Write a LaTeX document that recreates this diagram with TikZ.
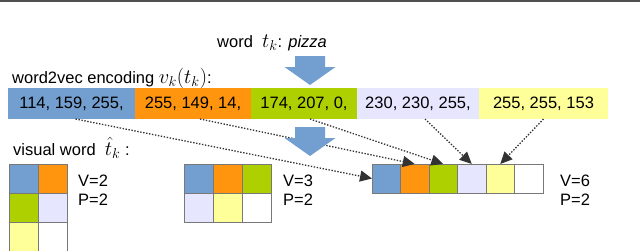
\RequirePackage{fix-cm}
\documentclass[tikz,border=0pt]{standalone}
\usepackage{fontspec}
\setmainfont{Liberation Sans}
\usepackage{xcolor}
\usepackage{tikz}
\usetikzlibrary{arrows.meta,positioning}
\definecolor{wblue}{RGB}{114,159,207}
\definecolor{worange}{RGB}{255,149,14}
\definecolor{wgreen}{RGB}{174,207,0}
\definecolor{wlav}{RGB}{230,230,255}
\definecolor{wyellow}{RGB}{255,255,153}
\definecolor{cellgray}{RGB}{120,120,120}
\definecolor{ptrgray}{RGB}{51,51,51}
\definecolor{rulegray}{RGB}{80,80,80}
\newcommand{\bigmath}[1]{{\fontsize{20.5}{24}\selectfont$#1$}}

\begin{document}
\begin{tikzpicture}[x=1pt, y=-1pt,
    lbl/.style={inner sep=0pt, font=\fontsize{16.5}{19}\selectfont},
    seg/.style={lbl, minimum height=31pt, outer sep=0pt},
    cell/.style={draw=cellgray, line width=0.8pt, minimum size=29pt, inner sep=0pt, outer sep=0pt},
    ptr/.style={-{Triangle[length=12pt,width=11pt]}, draw=ptrgray, line width=1.3pt, dash pattern=on 1.4pt off 1.6pt}]
        \useasboundingbox (0,0) rectangle (640,250);
        \draw[rulegray, line width=2pt] (0,1) -- (640,1);

        % labels
        \node (wordlbl) [lbl, anchor=base west] at (217,47) {word\ \ \bigmath{t_k}: \textit{pizza}};
        \node (enclbl) [lbl, anchor=base west] at (12,83) {word2vec encoding \bigmath{v_k(t_k)}:};
        \node (vislbl) [lbl, anchor=base west] at (13,155) {visual word\ \ \bigmath{\hat{t}_k}\ :};

        % encoding bar
        \node (s1) [seg, fill=wblue, minimum width=127pt, anchor=north west] at (8,88) {114, 159, 255,};
        \node (s2) [seg, fill=worange, minimum width=116pt, right=0pt of s1] {255, 149, 14,};
        \node (s3) [seg, fill=wgreen, minimum width=106pt, right=0pt of s2] {174, 207, 0,};
        \node (s4) [seg, fill=wlav, minimum width=122pt, right=0pt of s3] {230, 230, 255,};
        \node (s5) [seg, fill=wyellow, minimum width=129pt, right=0pt of s4] {255, 255, 153};

        % V=2 grid
        \node (a1) [cell, fill=wblue, anchor=north west] at (9,164) {};
        \node (a2) [cell, fill=worange, right=0pt of a1] {};
        \node (a3) [cell, fill=wgreen, below=0pt of a1] {};
        \node (a4) [cell, fill=wlav, right=0pt of a3] {};
        \node (a5) [cell, fill=wyellow, below=0pt of a3] {};
        \node (a6) [cell, fill=white, right=0pt of a5] {};
        \node (v2) [lbl, anchor=base west] at (78,186) {V=2};
        \node (p2) [lbl, anchor=base west] at ([yshift=-19pt]v2.base west) {P=2};

        % V=3 grid
        \node (b1) [cell, fill=wblue, anchor=north west] at (184,164) {};
        \node (b2) [cell, fill=worange, right=0pt of b1] {};
        \node (b3) [cell, fill=wgreen, right=0pt of b2] {};
        \node (b4) [cell, fill=wlav, below=0pt of b1] {};
        \node (b5) [cell, fill=wyellow, right=0pt of b4] {};
        \node (b6) [cell, fill=white, right=0pt of b5] {};
        \node (v3) [lbl, anchor=base west] at (283,186) {V=3};
        \node (p3) [lbl, anchor=base west] at ([yshift=-19pt]v3.base west) {P=2};

        % V=6 grid
        \node (c1) [cell, minimum width=28.5pt, fill=wblue, anchor=north west] at (372,164) {};
        \node (c2) [cell, minimum width=28.5pt, fill=worange, right=0pt of c1] {};
        \node (c3) [cell, minimum width=28.5pt, fill=wgreen, right=0pt of c2] {};
        \node (c4) [cell, minimum width=28.5pt, fill=wlav, right=0pt of c3] {};
        \node (c5) [cell, minimum width=28.5pt, fill=wyellow, right=0pt of c4] {};
        \node (c6) [cell, minimum width=28.5pt, fill=white, right=0pt of c5] {};
        \node (v6) [lbl, anchor=base west] at (560,186) {V=6};
        \node (p6) [lbl, anchor=base west] at ([yshift=-19pt]v6.base west) {P=2};

        % mapping
        \draw[ptr] ([xshift=4pt]s1.south) -- (c1.west);
        \draw[ptr] ([xshift=7pt]s2.south) -- (c2.north);
        \draw[ptr] ([xshift=6pt]s3.south) -- (c3.north);
        \draw[ptr] ([xshift=7pt]s4.south) -- (c4.north);
        \draw[ptr] (s5.south) -- (c5.north);

        % block arrows
        \foreach \ytop in {56,127}
          \fill[wblue, shift={(310,\ytop)}] (-15,0) -- (15,0) -- (15,11) -- (25.5,11) -- (0,29) -- (-25.5,11) -- (-15,11) -- cycle;
      \end{tikzpicture}
\end{document}
